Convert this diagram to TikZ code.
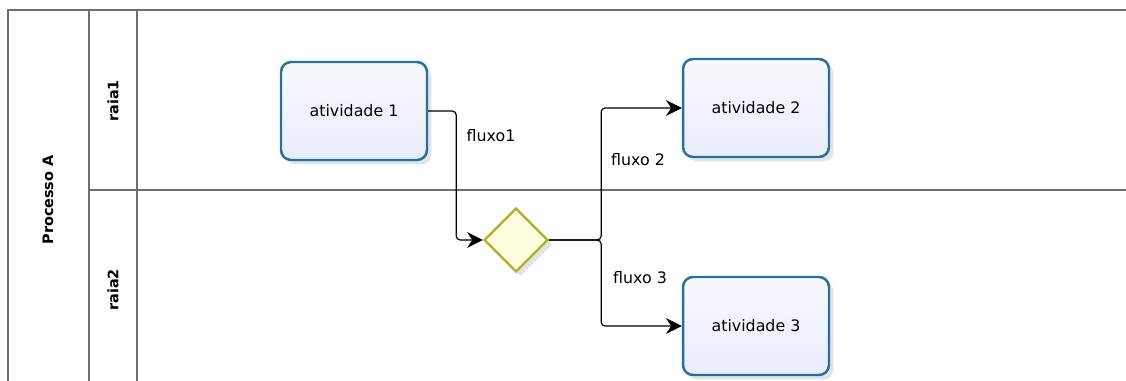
\documentclass[tikz,border=0pt]{standalone}
\usepackage{fontspec}
\setmainfont{DejaVu Sans}
\usepackage{tikz}
\usetikzlibrary{arrows.meta,shapes.geometric,shadows}

\definecolor{bordaatv}{RGB}{34,114,160}
\definecolor{topoatv}{RGB}{248,249,254}
\definecolor{baseatv}{RGB}{232,237,251}
\definecolor{bordagw}{RGB}{176,176,40}
\definecolor{fundogw}{RGB}{253,253,224}
\definecolor{linharaia}{RGB}{110,110,110}

\tikzset{
  raia/.style={draw=linharaia,line width=1pt},
  rotulo/.style={font=\fontsize{8.2}{10}\selectfont\bfseries,rotate=90},
  atividade/.style={draw=bordaatv,line width=1.4pt,rounded corners=0.2cm,
    top color=topoatv,bottom color=baseatv,
    minimum width=2.92cm,minimum height=1.96cm,
    font=\fontsize{9}{11}\selectfont,
    drop shadow={opacity=0.22,shadow xshift=0.09cm,shadow yshift=-0.09cm}},
  gateway/.style={diamond,draw=bordagw,line width=1.3pt,fill=fundogw,
    inner sep=0pt,minimum width=1.28cm,minimum height=1.28cm,
    drop shadow={opacity=0.22,shadow xshift=0.09cm,shadow yshift=-0.09cm}},
  fluxo/.style={draw=black,line width=0.7pt,rounded corners=0.08cm,
    -{Stealth[length=9pt,width=9pt,inset=3pt]}},
  rotfluxo/.style={font=\fontsize{9}{11}\selectfont,anchor=center}
}

\begin{document}
\begin{tikzpicture}[x=0.02cm,y=-0.02cm]
  \useasboundingbox (0,0) rectangle (1126,381);

  % Piscina e raias
  \draw[raia] (1126,10) -- (8,10) -- (8,381);
  \draw[raia] (89,10) -- (89,381);
  \draw[raia] (137,10) -- (137,381);
  \draw[raia] (89,190) -- (1126,190);

  % Rotulos
  \node[rotulo] (pool) at (48,200) {Processo A};
  \node[rotulo] (r1) at (113,101) {raia1};
  \node[rotulo] (r2) at (113,290) {raia2};

  % Atividades e gateway
  \node[atividade] (a1) at (354,111) {atividade 1};
  \node[atividade] (a2) at (756,108) {atividade 2};
  \node[atividade] (a3) at (756,326) {atividade 3};
  \node[gateway] (gw) at (516,240) {};

  % Fluxos
  \draw[fluxo] (a1.east) -- ++(28,0) |- (gw.west);
  \draw[fluxo] (gw.east) -- ++(52,0) |- (a2.west);
  \draw[fluxo] (gw.east) -- ++(52,0) |- (a3.west);
  \node[rotfluxo] (f1) at (491,136) {fluxo1};
  \node[rotfluxo] (f2) at (638,160) {fluxo 2};
  \node[rotfluxo] (f3) at (640,278) {fluxo 3};
\end{tikzpicture}
\end{document}
